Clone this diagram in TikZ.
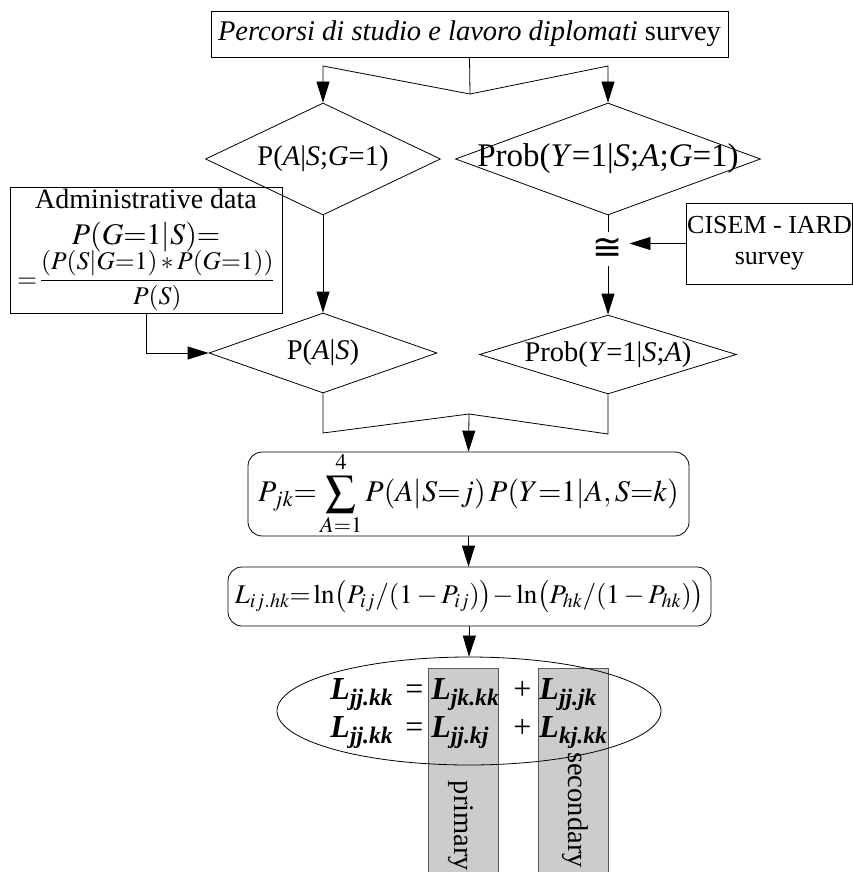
\documentclass[tikz,border=0pt]{standalone}
\usepackage{amsmath}
\usepackage{mathptmx}
\usepackage{fontspec}
\setmainfont{Liberation Serif}
\newfontfamily\symfont{DejaVu Sans}
\usetikzlibrary{shapes.geometric,arrows.meta}

\newcommand{\LL}[1]{\textbf{\textit{L}}\textsubscript{\textbf{\textit{#1}}}}
\newcommand{\fs}[1]{\fontsize{#1}{#1}\selectfont}

\begin{document}
\begin{tikzpicture}[x=1pt, y=-1pt, line width=0.8pt,
    every node/.style={font=\fontsize{28.5}{32}\selectfont},
    arr/.style={-{Triangle[length=21pt,width=13pt]}},
    dec/.style={diamond, draw, inner sep=0pt},
    box/.style={rectangle, draw, inner sep=0pt},
    rbox/.style={rectangle, draw, rounded corners=14pt, inner sep=0pt},
    band/.style={rectangle, draw=black!65, fill=black!20, line width=1pt, inner sep=0pt}]
\useasboundingbox (0,0) rectangle (853,872);
\clip (0,0) rectangle (853,872);

\node [box, minimum width=517pt, minimum height=46pt] (survey) at (469.5,34) {\textit{Percorsi di studio e lavoro diplomati} survey};

\node [dec, minimum width=235pt, minimum height=112pt, label=center:{P(\textit{A}|\textit{S};\textit{G}=1)}] (pag) at (323,159) {};
\node [dec, minimum width=305pt, minimum height=112pt, label={[font=\fs{33}]center:{Prob(\textit{Y}=1|\textit{S};\textit{A};\textit{G}=1)}}] (pyg) at (608,159) {};

\node [box, minimum width=272pt, minimum height=126pt, align=center] (admin) at (146,250) {{\fs{28}Administrative data}\\[4pt] {\fs{30}$P(G{=}1|S){=}$}\\[-2pt] {\fs{25.5}$=\!\dfrac{(P(S|G{=}1)\ast P(G{=}1))}{P(S)}$}};
\node [inner sep=6pt] (cong) at (608,249) {\symfont\fs{36}≅};
\node [box, minimum width=166pt, minimum height=81pt, align=center, font=\fontsize{26}{31}\selectfont] (cisem) at (769.5,243.5) {CISEM - IARD\\survey};

\node [dec, minimum width=228pt, minimum height=80pt, label=center:{P(\textit{A}|\textit{S})}] (pa) at (323,353) {};
\node [dec, minimum width=257pt, minimum height=79pt, label=center:{Prob(\textit{Y}=1|\textit{S};\textit{A})}] (py) at (608,354.5) {};

\node [rbox, minimum width=441pt, minimum height=82pt, font=\fs{30}] (pjk) at (468.5,494) {$P_{jk}{=}\displaystyle\sum_{A=1}^{4}P(A|S{=}j)\,P(Y{=}1|A,S{=}k)$};
\node [rbox, minimum width=483pt, minimum height=59pt, font=\fs{27}] (lij) at (469.5,596.5) {$L_{ij.hk}{=}\ln\bigl(P_{ij}/(1-P_{ij})\bigr){-}\ln\bigl(P_{hk}/(1-P_{hk})\bigr)$};

\node [band, minimum width=70pt, minimum height=230pt, anchor=north] (prim) at (463,668) {};
\node [band, minimum width=70pt, minimum height=230pt, anchor=north] (sec) at (573,668) {};
\node [rotate=-90] (primtext) at (461,826) {primary};
\node [rotate=-90] (sectext) at (575,810) {secondary};
\node [ellipse, draw, minimum width=384pt, minimum height=108pt, inner sep=0pt,
  label={center:{\fontsize{32}{38}\selectfont
  \begin{tabular}{@{}r@{\hspace{12pt}}c@{\hspace{8pt}}l@{\hspace{14pt}}c@{\hspace{8pt}}l@{}}
  \LL{jj.kk} & = & \LL{jk.kk} & + & \LL{jj.jk}\\
  \LL{jj.kk} & = & \LL{jj.kj} & + & \LL{kj.kk}
  \end{tabular}}}] (decomp) at (469,711) {};

\coordinate (split) at (470,94);
\coordinate (kl) at (323,66);
\coordinate (kr) at (608,66);
\coordinate (join) at (469,414);
\coordinate (jl) at (323,433);
\coordinate (jr) at (608,434);

\draw (survey.south) -- (split);
\draw [arr] (split) -- (kl) -- (pag.north);
\draw [arr] (split) -- (kr) -- (pyg.north);
\draw [arr] (pag.south) -- (pa.north);
\draw [arr] (admin.south) |- (pa.west);
\draw (pyg.south) -- (cong.north);
\draw [arr] (cong.south) -- (py.north);
\draw [arr] (cisem.west) -- (cisem.west -| cong.east);
\draw (pa.south) -- (jl) -- (join) -- (jr) -- (py.south);
\draw [arr] (join) -- (pjk.north);
\draw [arr] (pjk.south) -- (pjk.south |- lij.north);
\draw [arr] (lij.south) -- (decomp.north);
\end{tikzpicture}
\end{document}
